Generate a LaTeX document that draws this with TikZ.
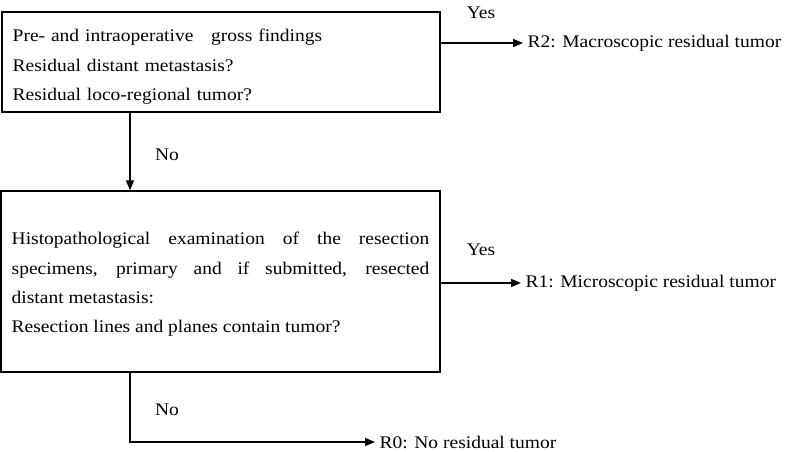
\documentclass[tikz,border=0pt]{standalone}
\usepackage{fontspec}
\setmainfont{Liberation Serif}[FakeStretch=1.1]
\usetikzlibrary{arrows.meta}

\begin{document}
\begin{tikzpicture}[x=0.75pt, y=-0.75pt,
  txt/.style={font=\fontsize{13.3}{22}\selectfont},
  box/.style={txt, draw, line width=1.1pt, inner xsep=8pt, inner ysep=0pt},
  arr/.style={-{Triangle[length=7.5pt,width=6pt]}, line width=1.1pt}]
\useasboundingbox (0,0) rectangle (786,452);

\node[box, text width=312.5pt, minimum height=75pt, align=left] (gross) at (221,62)
  {\rule{0pt}{16.7pt}Pre- and intraoperative\quad gross findings\\
   Residual distant metastasis?\\
   Residual loco-regional tumor?};
\node[box, text width=313.25pt, minimum height=135.75pt, align=justify] (histo) at (220.5,281.5)
  {\rule{0pt}{13.7pt}Histopathological examination of the resection\linebreak
   specimens, primary and if submitted, resected\linebreak
   distant metastasis:\\
   Resection lines and planes contain tumor?};

\node[txt, anchor=west] (r2) at (523,43) {R2: Macroscopic residual tumor};
\node[txt, anchor=west] (r1) at (521,283) {R1: Microscopic residual tumor};
\node[txt, anchor=west] (r0) at (375,442) {R0: No residual tumor};

\node[txt] (yes2) at (481,13) {Yes};
\node[txt] (yes1) at (481,250) {Yes};
\node[txt] (no2)  at (167,155) {No};
\node[txt] (no1)  at (167,410) {No};

\coordinate (split) at (130,0);
\draw[arr] (gross.south -| split) -- (histo.north -| split);
\draw[arr] (gross.east |- r2.west) -- (r2.west);
\draw[arr] (histo.east |- r1.west) -- (r1.west);
\draw[arr] (histo.south -| split) |- (r0.west);
\end{tikzpicture}
\end{document}
